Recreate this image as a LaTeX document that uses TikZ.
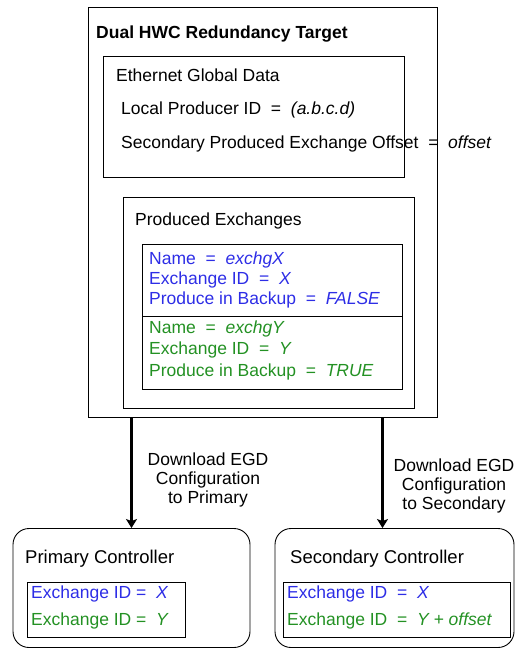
\documentclass[tikz,border=0pt]{standalone}
\usepackage{fontspec}
\setmainfont{Liberation Sans}
\usepackage{xcolor}
\usetikzlibrary{arrows.meta, positioning}
\definecolor{egdblue}{RGB}{45,45,230}
\definecolor{egdgreen}{RGB}{35,145,35}

\begin{document}
\begin{tikzpicture}[x=1pt, y=-1pt, >={Stealth[length=9pt,width=11pt,inset=2pt]},
    font=\fontsize{17.5}{19}\selectfont,
    box/.style={draw, line width=0.9pt, inner sep=0pt},
    ctrl/.style={box, rounded corners=16pt},
    txt/.style={anchor=base west, inner sep=0pt},
    dl/.style={->, line width=3.6pt}]
  \useasboundingbox (0,0) rectangle (515,649);
  % boxes
  \node[box, minimum width=349pt, minimum height=410pt] (target) at (262.5,212) {};
  \node[box, minimum width=301pt, minimum height=121pt] (egd) at (253.5,116.5) {};
  \node[box, minimum width=291pt, minimum height=211pt] (prodx) at (268.5,302.5) {};
  \node[box, minimum width=260pt, minimum height=72pt] (xchx) at (272,280) {};
  \node[box, minimum width=260pt, minimum height=73pt] (xchy) at (272,352.5) {};
  \node[ctrl, minimum width=237pt, minimum height=119pt] (prim) at (131.5,588) {};
  \node[ctrl, minimum width=239pt, minimum height=119pt] (sec) at (394.5,588) {};
  \node[box, minimum width=158pt, minimum height=55pt] (primid) at (106,609.5) {};
  \node[box, minimum width=227pt, minimum height=55pt] (secid) at (396.5,609.5) {};
  % texts
  \node[txt, font=\fontsize{17.5}{19}\selectfont\bfseries] (ttarget) at (96,38) {Dual HWC Redundancy Target};
  \node[txt] (tegd) at (116,81) {Ethernet Global Data};
  \node[txt] (tlocal) at (121,114) {Local Producer ID \ = \ \textit{(a.b.c.d)}};
  \node[txt] (toffset) at (121,148) {Secondary Produced Exchange Offset \ = \ \textit{offset}};
  \node[txt] (tprodx) at (135,225) {Produced Exchanges};
  \node[txt, text=egdblue] (xname) at (149,264) {Name \ = \ \textit{exchgX}};
  \node[txt, text=egdblue] (xid) at (149,284) {Exchange ID \ = \ \textit{X}};
  \node[txt, text=egdblue] (xbak) at (149,304) {Produce in Backup \ = \ \textit{FALSE}};
  \node[txt, text=egdgreen] (yname) at (149,333) {Name \ = \ \textit{exchgY}};
  \node[txt, text=egdgreen] (yid) at (149,354) {Exchange ID \ = \ \textit{Y}};
  \node[txt, text=egdgreen] (ybak) at (149,376) {Produce in Backup \ = \ \textit{TRUE}};
  \node[txt, font=\fontsize{18.5}{20}\selectfont] (tprim) at (25,563) {Primary Controller};
  \node[txt, font=\fontsize{18.5}{20}\selectfont] (tsec) at (290,563) {Secondary Controller};
  \node[txt, text=egdblue] (pidx) at (31,598) {Exchange ID = \ \textit{X}};
  \node[txt, text=egdgreen] (pidy) at (31,625) {Exchange ID = \ \textit{Y}};
  \node[txt, text=egdblue] (sidx) at (287,598) {Exchange ID \ = \ \textit{X}};
  \node[txt, text=egdgreen] (sidy) at (287,625) {Exchange ID \ = \ \textit{Y + offset}};
  % downloads
  \draw[dl] (prim.north |- target.south) -- (prim.north);
  \draw[dl] ([xshift=-12pt]sec.north |- target.south) -- ([xshift=-12pt]sec.north);
  \node[align=center, inner sep=0pt] (dlprim) at (208,480) {Download EGD\\Configuration\\to Primary};
  \node[align=center, inner sep=0pt] (dlsec) at (454,486) {Download EGD\\Configuration\\to Secondary};
\end{tikzpicture}
\end{document}
